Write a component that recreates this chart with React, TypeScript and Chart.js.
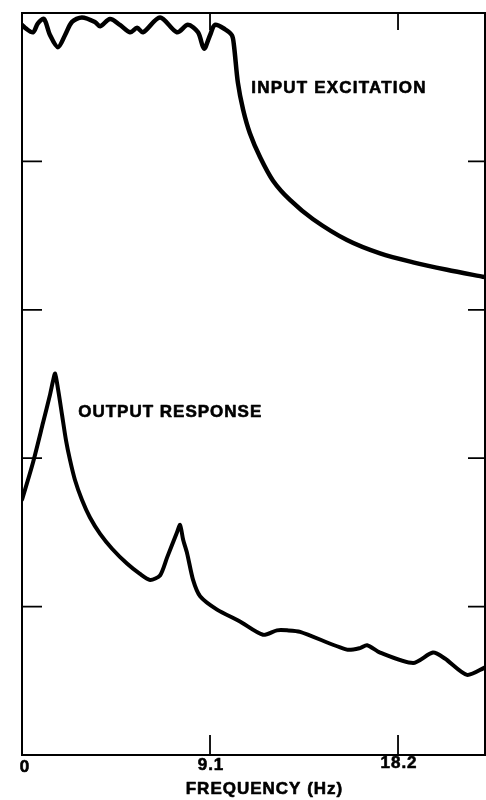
import React, { useEffect, useRef } from "react";
import { Chart, registerables } from "chart.js";

Chart.register(...registerables);

// Frequency axis (Hz)
const xTickValues = [0, 9.1, 18.2];
const xTickLabels = ["0", "9.1", "18.2"];
const yTickValues = [1, 2, 3, 4];
const xAxisTitle = "FREQUENCY (Hz)";

// Input excitation curve
const inputFreq = [0, 0.15, 0.53, 0.77, 1.06, 1.36, 1.74, 2.08, 2.42, 2.9, 3.53, 3.78, 4.26, 4.74, 5.23, 5.57, 5.86, 6.68, 7.5, 8.03, 8.52, 8.81, 9.1, 9.34, 9.83, 10.16, 10.26, 10.45, 10.7, 11.03, 11.52, 12.15, 12.97, 14.09, 15.73, 17.33, 18.93, 20.57, 22.41];
const inputLevel = [4.92, 4.9, 4.87, 4.93, 4.96, 4.85, 4.77, 4.85, 4.94, 4.97, 4.94, 4.91, 4.96, 4.92, 4.87, 4.9, 4.87, 4.97, 4.87, 4.92, 4.87, 4.76, 4.85, 4.92, 4.89, 4.85, 4.78, 4.53, 4.35, 4.19, 4.03, 3.87, 3.74, 3.61, 3.47, 3.38, 3.32, 3.27, 3.22];

// Output response curve
const outputFreq = [0, 0.53, 1.02, 1.36, 1.5, 1.6, 1.75, 1.94, 2.13, 2.32, 2.56, 2.9, 3.29, 3.78, 4.36, 5.08, 5.71, 6.2, 6.68, 7.02, 7.5, 7.65, 7.8, 7.99, 8.28, 8.62, 9.44, 10.55, 11.67, 12.34, 12.83, 13.46, 15.73, 16.36, 16.7, 17.33, 18.93, 19.89, 20.47, 21.54, 22.41];
const outputLevel = [1.72, 1.97, 2.24, 2.43, 2.52, 2.57, 2.46, 2.29, 2.12, 1.99, 1.855, 1.72, 1.6, 1.49, 1.39, 1.29, 1.22, 1.18, 1.21, 1.33, 1.5, 1.55, 1.45, 1.36, 1.18, 1.07, 0.98, 0.9, 0.81, 0.84, 0.84, 0.83, 0.71, 0.72, 0.74, 0.69, 0.62, 0.69, 0.65, 0.54, 0.59];

const curveLabels = [
  { text: "INPUT EXCITATION", x: 11.1, y: 4.49, spacing: 1.2 },
  { text: "OUTPUT RESPONSE", x: 2.72, y: 2.31, spacing: 1.0 },
];

function boldText(ctx: any, text: string, x: number, y: number) {
  ctx.fillText(text, x, y);
  ctx.strokeText(text, x, y);
}

const framePlugin = {
  id: "frame",
  afterDraw(chart: any) {
    const { ctx, chartArea, scales } = chart;
    const xs = scales.x;
    const ys = scales.y;
    const { left, right, top, bottom } = chartArea;
    ctx.save();
    ctx.strokeStyle = "#000";
    ctx.lineWidth = 2;
    ctx.lineCap = "butt";
    ctx.beginPath();
    ctx.moveTo(left, top);
    ctx.lineTo(left, bottom);
    ctx.lineTo(right, bottom);
    ctx.lineTo(right, top);
    ctx.closePath();
    ctx.stroke();

    ctx.lineWidth = 1.8;
    ctx.beginPath();
    for (const v of xTickValues) {
      if (v === 0) continue;
      const px = xs.getPixelForValue(v);
      ctx.moveTo(px, bottom);
      ctx.lineTo(px, bottom - 20);
      ctx.moveTo(px, top);
      ctx.lineTo(px, top + 17);
    }
    for (const v of yTickValues) {
      const py = ys.getPixelForValue(v);
      ctx.moveTo(left, py);
      ctx.lineTo(left + 20, py);
      ctx.moveTo(right, py);
      ctx.lineTo(right - 17, py);
    }
    ctx.stroke();

    ctx.fillStyle = "#000";
    ctx.lineWidth = 0.6;
    ctx.lineJoin = "round";
    ctx.textAlign = "center";
    ctx.textBaseline = "middle";
    ctx.font = "bold 17px 'Liberation Sans', Arial, sans-serif";
    (ctx as any).letterSpacing = "1px";
    xTickValues.forEach((v, i) => {
      const px = xs.getPixelForValue(v);
      boldText(ctx, xTickLabels[i], px + (v === 0 ? 3 : 1), bottom + 12 - i * 2);
    });
    (ctx as any).letterSpacing = "1px";
    boldText(ctx, xAxisTitle, (left + right) / 2 + 11, bottom + 34);

    ctx.textAlign = "left";
    for (const lbl of curveLabels) {
      (ctx as any).letterSpacing = lbl.spacing + "px";
      boldText(ctx, lbl.text, xs.getPixelForValue(lbl.x), ys.getPixelForValue(lbl.y));
    }
    ctx.restore();
  },
};

export default function App() {
  const ref = useRef<HTMLCanvasElement | null>(null);
  useEffect(() => {
    if (!ref.current) return;
    const chart = new Chart(ref.current, {
      type: "line",
      data: {
        datasets: [
          {
            label: "Input excitation",
            data: inputFreq.map((f, i) => ({ x: f, y: inputLevel[i] })),
            borderColor: "#000",
            borderWidth: 4.5,
            pointRadius: 0,
            tension: 0.3,
            fill: false,
            borderCapStyle: "round",
            borderJoinStyle: "round",
          },
          {
            label: "Output response",
            data: outputFreq.map((f, i) => ({ x: f, y: outputLevel[i] })),
            borderColor: "#000",
            borderWidth: 4,
            pointRadius: 0,
            tension: 0.25,
            fill: false,
            borderCapStyle: "round",
            borderJoinStyle: "round",
          },
        ],
      },
      options: {
        animation: false,
        responsive: true,
        maintainAspectRatio: false,
        layout: { padding: { left: 22, top: 13, right: 1, bottom: 45 } },
        scales: {
          x: { type: "linear", min: 0, max: 22.41, display: false },
          y: { type: "linear", min: 0, max: 5, display: false },
        },
        plugins: { legend: { display: false }, tooltip: { enabled: false } },
      },
      plugins: [framePlugin],
    } as any);
    return () => chart.destroy();
  }, []);
  return (
    <div style={{ position: "absolute", left: 0, top: 0, width: 486, height: 800, background: "#fff" }}>
      <canvas ref={ref} />
    </div>
  );
}
